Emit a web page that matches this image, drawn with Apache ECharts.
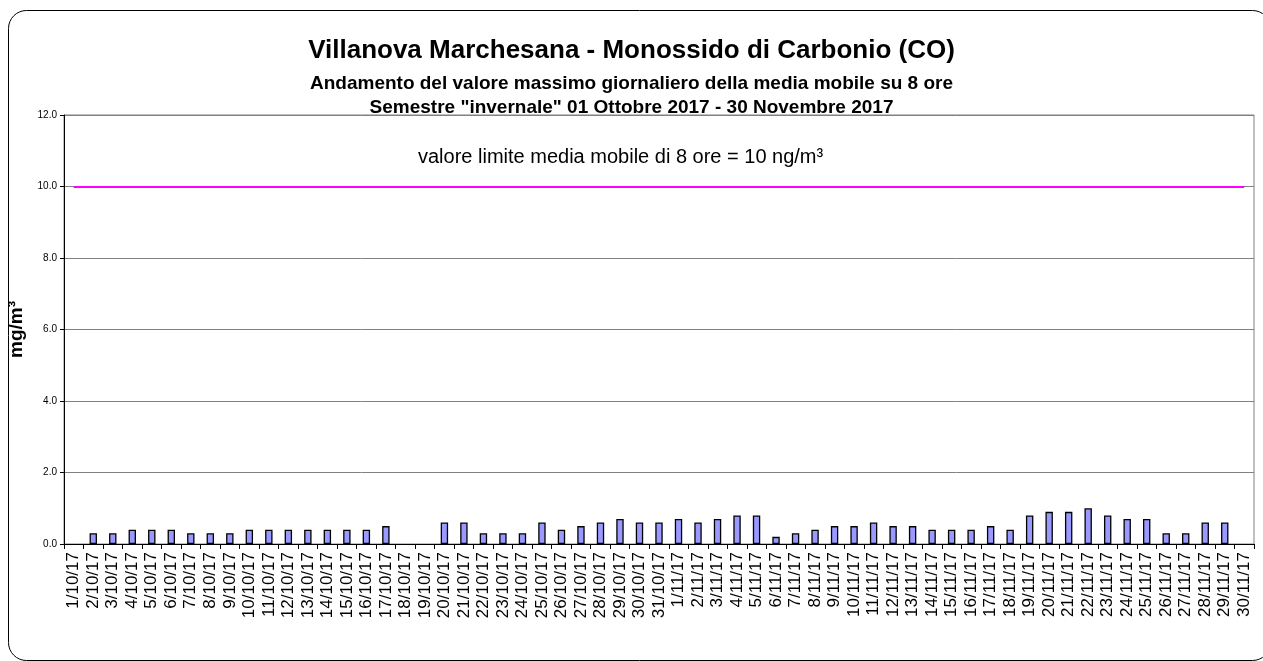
<!DOCTYPE html>
<html>
<head>
<meta charset="utf-8">
<script src="https://cdn.jsdelivr.net/npm/echarts@6/dist/echarts.min.js"></script>
<style>
html,body{margin:0;padding:0;background:#fff;}
#chart{width:1263px;height:661px;}
</style>
</head>
<body>
<div id="chart"></div>
<script>
var categories = [
  '1/10/17','2/10/17','3/10/17','4/10/17','5/10/17','6/10/17','7/10/17','8/10/17','9/10/17','10/10/17',
  '11/10/17','12/10/17','13/10/17','14/10/17','15/10/17','16/10/17','17/10/17','18/10/17','19/10/17','20/10/17',
  '21/10/17','22/10/17','23/10/17','24/10/17','25/10/17','26/10/17','27/10/17','28/10/17','29/10/17','30/10/17',
  '31/10/17','1/11/17','2/11/17','3/11/17','4/11/17','5/11/17','6/11/17','7/11/17','8/11/17','9/11/17',
  '10/11/17','11/11/17','12/11/17','13/11/17','14/11/17','15/11/17','16/11/17','17/11/17','18/11/17','19/11/17',
  '20/11/17','21/11/17','22/11/17','23/11/17','24/11/17','25/11/17','26/11/17','27/11/17','28/11/17','29/11/17',
  '30/11/17'
];
var coValues = [
  null,0.3,0.3,0.4,0.4,0.4,0.3,0.3,0.3,0.4,
  0.4,0.4,0.4,0.4,0.4,0.4,0.5,null,null,0.6,
  0.6,0.3,0.3,0.3,0.6,0.4,0.5,0.6,0.7,0.6,
  0.6,0.7,0.6,0.7,0.8,0.8,0.2,0.3,0.4,0.5,
  0.5,0.6,0.5,0.5,0.4,0.4,0.4,0.5,0.4,0.8,
  0.9,0.9,1.0,0.8,0.7,0.7,0.3,0.3,0.6,0.6,
  null
];
var limitValue = 10;
var yTicks = { min: 0, max: 12, interval: 2 };
var titleText = 'Villanova Marchesana - Monossido di Carbonio (CO)';
var subtitle1 = 'Andamento del valore massimo giornaliero della media mobile su 8 ore';
var subtitle2 = 'Semestre "invernale" 01 Ottobre 2017 - 30 Novembre 2017';
var limitNote = 'valore limite media mobile di 8 ore = 10 ng/m³';

var FONT = 'Liberation Sans, Arial, sans-serif';
var chart = echarts.init(document.getElementById('chart'), null, {renderer:'canvas'});
chart.setOption({
  animation: false,
  backgroundColor: '#fff',
  textStyle: { fontFamily: FONT },
  title: [
    { text: titleText, left: 'center', top: 33, textStyle: { fontFamily: FONT, fontSize: 26, fontWeight: 'bold', color: '#000' } },
    { text: subtitle1, left: 'center', top: 69, textStyle: { fontFamily: FONT, fontSize: 19, fontWeight: 'bold', color: '#000' } },
    { text: subtitle2, left: 'center', top: 93, textStyle: { fontFamily: FONT, fontSize: 19, fontWeight: 'bold', color: '#000' } },
    { text: limitNote, left: 413, top: 142, textStyle: { fontFamily: FONT, fontSize: 20, fontWeight: 'normal', color: '#000' } }
  ],
  graphic: [
    { type: 'rect', silent: true, z: -1,
      shape: { x: 8.5, y: 10.5, width: 1262, height: 650, r: 18 },
      style: { fill: 'none', stroke: '#000', lineWidth: 1 } }
  ],
  grid: { left: 64, right: 9, top: 115, bottom: 117, containLabel: false, outerBoundsMode: 'none',
    show: true, borderColor: '#808080', borderWidth: 1, backgroundColor: 'transparent' },
  xAxis: {
    type: 'category',
    data: categories,
    boundaryGap: true,
    axisLine: { show: true, lineStyle: { color: '#000', width: 1 } },
    axisTick: { show: true, interval: 0, length: 5, lineStyle: { color: '#000' } },
    axisLabel: { interval: 0, rotate: 90, fontSize: 17, color: '#000', fontFamily: FONT, margin: 8, hideOverlap: false },
    splitLine: { show: false }
  },
  yAxis: {
    type: 'value',
    min: yTicks.min, max: yTicks.max, interval: yTicks.interval,
    name: 'mg/m³',
    nameLocation: 'middle',
    nameRotate: 90,
    nameGap: 37,
    nameTextStyle: { fontFamily: FONT, fontSize: 19, fontWeight: 'bold', color: '#000' },
    axisLine: { show: true, lineStyle: { color: '#000', width: 1 } },
    axisTick: { show: true, length: 4, lineStyle: { color: '#000' } },
    axisLabel: { fontSize: 10, color: '#000', fontFamily: FONT, margin: 7,
      formatter: function (v) { return v.toFixed(1); } },
    splitLine: { show: true, lineStyle: { color: '#808080', width: 1 } }
  },
  series: [
    {
      type: 'bar',
      data: coValues,
      barWidth: '38%',
      itemStyle: { color: '#9999FF', borderColor: '#000', borderWidth: 1.3 },
      markLine: {
        silent: true,
        symbol: ['none', 'none'],
        label: { show: false },
        lineStyle: { color: '#FF00FF', width: 2, type: 'solid' },
        data: [[
          { coord: [categories[0], limitValue] },
          { coord: [categories[categories.length - 1], limitValue] }
        ]]
      }
    }
  ]
});
</script>
</body>
</html>
